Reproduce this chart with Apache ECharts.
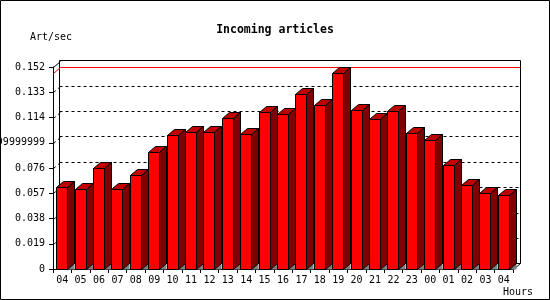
<!DOCTYPE html>
<html><head><meta charset="utf-8">
<script src="https://cdn.jsdelivr.net/npm/echarts@6/dist/echarts.min.js"></script>
<style>html,body{margin:0;padding:0;background:#fff}#c{width:550px;height:300px}</style>
</head><body><div id="c"></div>
<script>
const categories = ['04','05','06','07','08','09','10','11','12','13','14','15','16','17','18','19','20','21','22','23','00','01','02','03','04'];
const values = [0.0617,0.0602,0.0760,0.0602,0.0707,0.0880,0.1007,0.1032,0.1032,0.1135,0.1017,0.1182,0.1165,0.1317,0.1232,0.1478,0.1195,0.1127,0.1190,0.1022,0.0970,0.0782,0.0632,0.0572,0.0557];
const yTicks = [0,0.019,0.038,0.057,0.076,0.095,0.114,0.133,0.152];
const yTickLabels = ['0','0.019','0.038','0.057','0.076','0.09499999999999999','0.114','0.133','0.152'];
const titleText = 'Incoming articles';
const yName = 'Art/sec';
const xName = 'Hours';

const DX = 7, DY = 6;
const FONT = 'DejaVu Sans Mono';
const maxValue = Math.max(...values);
const chart = echarts.init(document.getElementById('c'), null, {renderer: 'canvas'});

function renderBar(params, api) {
  const i = api.value(0), v = api.value(1);
  const top = api.coord([i, v]);
  const base = api.coord([i, 0]);
  const band = api.size([1, 0])[0];
  const bw = Math.round(band * 0.6);
  const x0 = Math.floor(top[0] - bw / 2) + 0.5;
  const x1 = x0 + bw;
  const yt = Math.round(top[1]) + 0.5;
  const yb = Math.round(base[1]) + 0.5;
  const children = [];
  if (params.dataIndex === 0) {
    const xl = Math.round(top[0] - band / 2) + 0.5;
    yTicks.forEach((t, k) => {
      if (k === 0) return;
      const y = Math.round(api.coord([i, t])[1]) + 0.5;
      const last = k === yTicks.length - 1;
      children.push({type: 'line', shape: {x1: xl, y1: y, x2: xl + DX, y2: y - DY},
        style: {stroke: '#000', lineWidth: 1, lineDash: last ? null : [3, 3]}});
    });
    // maximum line: on the left wall and across the back plane
    const ym = Math.round(api.coord([i, maxValue])[1]) + 0.5;
    const xEnd = Math.round(api.coord([values.length - 1, maxValue])[0] + band / 2) + 0.5;
    children.push({type: 'polyline', shape: {points: [[xl, ym], [xl + DX, ym - DY], [xEnd + DX, ym - DY]]},
      style: {stroke: '#ff0000', lineWidth: 1, fill: null}});
  }
  if (params.dataIndex === values.length - 1) {
    const xr = Math.round(top[0] + band / 2) + 0.5;
    children.push({type: 'line', shape: {x1: xr, y1: yb, x2: xr + DX, y2: yb - DY},
      style: {stroke: '#000', lineWidth: 1}});
  }
  children.push({type: 'polygon', shape: {points: [[x1, yb], [x1 + DX, yb - DY], [x1 + DX, yb]]},
    style: {fill: '#808080'}});
  children.push({type: 'rect', shape: {x: x0, y: yt, width: bw, height: yb - yt},
    style: {fill: '#ff0000', stroke: '#000', lineWidth: 1}});
  children.push({type: 'polygon', shape: {points: [[x0, yt], [x0 + DX, yt - DY], [x1 + DX, yt - DY], [x1, yt]]},
    style: {fill: '#c00000', stroke: '#000', lineWidth: 1}});
  children.push({type: 'polygon', shape: {points: [[x1, yt], [x1 + DX, yt - DY], [x1 + DX, yb - DY], [x1, yb]]},
    style: {fill: '#800000', stroke: '#000', lineWidth: 1}});
  return {type: 'group', children};
}

const yMin = yTicks[0], yMax = yTicks[yTicks.length - 1], yStep = yTicks[1] - yTicks[0];

chart.setOption({
  animation: false,
  backgroundColor: '#fff',
  title: {text: titleText, left: 'center', top: 19,
    textStyle: {fontFamily: FONT, fontWeight: 'bold', fontSize: 11.5, color: '#000'}},
  grid: [
    {left: 53, right: 37, top: 67, bottom: 31, containLabel: false, outerBoundsMode: 'none'},
    {left: 59.5, right: 29.5, top: 60.5, bottom: 36.5, containLabel: false, outerBoundsMode: 'none',
     show: true, borderColor: '#000', borderWidth: 1, backgroundColor: 'transparent'}
  ],
  xAxis: [
    {type: 'category', gridIndex: 0, data: categories, boundaryGap: true,
     axisLine: {lineStyle: {color: '#000', width: 1}},
     axisTick: {show: true, interval: 0, length: 4, lineStyle: {color: '#000'}},
     axisLabel: {interval: 0, margin: 6, color: '#000', fontFamily: FONT, fontSize: 10},
     splitLine: {show: false}},
    {type: 'category', gridIndex: 1, data: categories, show: false}
  ],
  yAxis: [
    {type: 'value', gridIndex: 0, min: yMin, max: yMax, interval: yStep,
     axisLine: {show: true, lineStyle: {color: '#000', width: 1}},
     axisTick: {show: true, length: 4, lineStyle: {color: '#000'}},
     axisLabel: {margin: 8, color: '#000', fontFamily: FONT, fontSize: 10,
       formatter: function (v) {
         const k = Math.round((v - yMin) / yStep);
         return yTickLabels[k] !== undefined ? yTickLabels[k] : String(v);
       }},
     splitLine: {show: false}},
    {type: 'value', gridIndex: 1, min: yMin, max: yMax, interval: yStep,
     axisLine: {show: false}, axisTick: {show: false}, axisLabel: {show: false},
     splitLine: {show: true, showMinLine: false, showMaxLine: false,
       lineStyle: {color: '#000', width: 1, type: [3, 3]}}}
  ],
  series: [
    {type: 'custom', xAxisIndex: 0, yAxisIndex: 0, clip: false, z: 3,
     data: values.map((v, i) => [i, v]), encode: {x: 0, y: 1},
     renderItem: renderBar}
  ],
  graphic: [
    {type: 'rect', shape: {x: 0.5, y: 0.5, width: 549, height: 299}, style: {fill: 'none', stroke: '#000', lineWidth: 1}, z: 100},
    {type: 'text', x: 30, y: 37, style: {text: yName, fontFamily: FONT, fontSize: 10, fill: '#000', verticalAlign: 'middle'}},
    {type: 'text', x: 533, y: 292, style: {text: xName, fontFamily: FONT, fontSize: 10, fill: '#000', align: 'right', verticalAlign: 'middle'}}
  ]
});
</script>
</body></html>
